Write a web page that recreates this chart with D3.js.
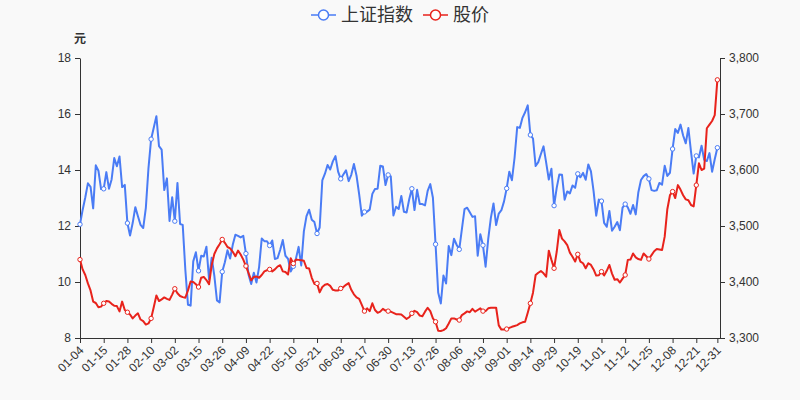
<!DOCTYPE html>
<html>
<head>
<meta charset="utf-8">
<script src="https://cdn.jsdelivr.net/npm/d3@7"></script>
<style>
  body { margin: 0; background: #f9f9f9; }
  svg { font-family: "Liberation Sans", "Noto Sans CJK SC", sans-serif; }
</style>
</head>
<body>
<script>
const w = 800;
const h = 400;
const margin = { top: 58, right: 80, bottom: 62, left: 80 };

// trading days of the year, grouped by month
const tradingDays = [
  ["01", "04 05 06 07 08 11 12 13 14 15 18 19 20 21 22 25 26 27 28 29"],
  ["02", "01 02 03 04 05 08 09 10 18 19 22 23 24 25 26"],
  ["03", "01 02 03 04 05 08 09 10 11 12 15 16 17 18 19 22 23 24 25 26 29 30 31"],
  ["04", "01 02 06 07 08 09 12 13 14 15 16 19 20 21 22 23 26 27 28 29 30"],
  ["05", "06 07 10 11 12 13 14 17 18 19 20 21 24 25 26 27 28 31"],
  ["06", "01 02 03 04 07 08 09 10 11 15 16 17 18 21 22 23 24 25 28 29 30"],
  ["07", "01 02 05 06 07 08 09 12 13 14 15 16 19 20 21 22 23 26 27 28 29 30"],
  ["08", "02 03 04 05 06 09 10 11 12 13 16 17 18 19 20 23 24 25 26 27 30 31"],
  ["09", "01 02 03 06 07 08 09 10 13 14 15 16 17 22 23 24 27 28 29 30"],
  ["10", "08 11 12 13 14 15 18 19 20 21 22 25 26 27 28 29"],
  ["11", "01 02 03 04 05 08 09 10 11 12 15 16 17 18 19 22 23 24 25 26 29 30"],
  ["12", "01 02 03 06 07 08 09 10 13 14 15 16 17 20 21 22 23 24 27 28 29 30 31"]
];
const dates = tradingDays.flatMap(([m, ds]) => ds.split(" ").map(d => m + "-" + d));

const tickLabels = ["01-04", "01-15", "01-28", "02-10", "03-02", "03-15", "03-26", "04-09",
  "04-22", "05-10", "05-21", "06-03", "06-17", "06-30", "07-13", "07-26", "08-06", "08-19",
  "09-01", "09-14", "09-29", "10-19", "11-01", "11-12", "11-25", "12-08", "12-21", "12-31"];

const leftTicks = [8, 10, 12, 14, 16, 18];
const rightTicks = [3300, 3400, 3500, 3600, 3700, 3800];

const indexName = "上证指数";
const priceName = "股价";

// 上证指数 (right axis)
const indexValues = [
  3502.96,3528.68,3550.88,3576.20,3570.11,3531.50,3608.34,3598.65,3565.90,3566.38,3596.22,3566.65,3583.09,3621.26,3606.75,3624.24,3569.43,3573.34,3505.18,3483.07,
  3505.28,3533.68,3517.31,3501.86,3496.33,3532.44,3603.49,3655.09,3675.36,3696.17,3642.44,3636.36,3564.08,3585.05,3509.08,
  3551.40,3508.59,3576.90,3503.49,3501.99,3421.41,3359.29,3357.74,3436.83,3453.08,3419.95,3446.73,3445.55,3463.07,3404.66,3443.44,3411.51,3367.06,3363.59,3418.33,3435.30,3456.68,3441.91,
  3466.33,3484.39,3482.48,3479.63,3482.55,3450.68,3412.95,3396.47,3416.50,3398.99,3426.62,3477.55,3472.94,3472.93,3465.11,3474.17,3441.17,3442.61,3457.07,3474.90,3446.86,
  3441.28,3418.87,3427.99,3441.85,3462.75,3429.54,3490.38,3517.62,3529.01,3510.96,3506.94,3486.56,3497.28,3581.34,3593.36,3608.85,3600.78,3615.48,
  3624.71,3597.14,3584.22,3591.84,3599.54,3580.11,3591.40,3610.86,3589.75,3556.56,3518.33,3525.10,3525.60,3529.18,3557.41,3566.22,3566.65,3607.56,3606.37,3573.18,3591.20,
  3588.78,3518.76,3534.32,3530.26,3553.72,3525.50,3524.09,3547.84,3566.57,3528.50,3564.59,3539.30,3539.12,3536.79,3562.70,3574.73,3550.40,3467.44,3381.18,3361.59,3411.72,3397.36,
  3464.29,3447.99,3477.22,3466.56,3458.23,3494.63,3529.93,3532.62,3524.74,3516.30,3517.34,3446.98,3485.29,3465.55,3427.33,3477.13,3514.47,3540.38,3501.66,3522.16,3528.15,3543.94,
  3567.10,3597.04,3581.73,3621.86,3676.59,3675.19,3693.13,3703.11,3715.37,3662.60,3656.22,3607.09,3613.97,3628.49,3642.22,3613.07,3582.83,3602.22,3536.29,3568.17,
  3592.17,3591.71,3546.94,3561.76,3558.28,3572.37,3568.14,3593.15,3587.00,3594.78,3582.60,3609.86,3597.64,3562.31,3518.42,3547.34,
  3544.48,3505.63,3498.54,3526.87,3491.57,3498.63,3507.00,3492.46,3532.79,3539.10,3533.30,3521.79,3537.37,3520.71,3560.37,3582.08,3589.09,3592.70,3584.18,3564.09,3562.70,3563.89,
  3576.89,3573.84,3607.43,3589.31,3595.09,3637.57,3673.04,3666.35,3681.08,3661.53,3647.63,3675.02,3632.36,3593.60,3625.13,3622.62,3643.34,3618.05,3615.97,3630.11,3597.00,3619.19,3639.78
];

// 股价 (left axis, 元)
const priceValues = [
  10.80,10.45,10.25,9.95,9.70,9.30,9.25,9.10,9.12,9.24,9.32,9.30,9.22,9.15,9.14,8.95,9.30,9.00,8.92,8.84,
  8.70,8.80,8.88,8.66,8.60,8.48,8.52,8.70,9.10,9.52,9.32,9.38,9.45,9.40,9.36,
  9.55,9.76,9.60,9.50,9.46,9.44,9.70,10.02,10.00,9.92,9.82,10.15,10.18,10.07,9.92,10.60,11.00,11.20,11.35,11.52,11.40,11.25,11.20,
  11.08,10.92,11.12,10.98,10.80,10.57,10.32,10.06,10.18,10.20,10.15,10.25,10.38,10.42,10.45,10.38,10.45,10.55,10.60,10.38,10.36,
  10.27,10.85,10.66,10.80,10.79,10.78,10.76,10.50,10.48,10.15,9.93,9.95,9.63,9.82,9.90,9.93,9.86,9.72,
  9.70,9.70,9.77,9.82,9.90,9.96,9.72,9.56,9.45,9.40,9.18,8.96,9.06,8.96,9.24,9.00,8.90,8.94,9.04,8.98,8.96,
  8.94,8.90,8.85,8.85,8.84,8.76,8.68,8.74,8.88,8.97,8.92,8.80,8.78,8.94,9.08,8.96,8.70,8.58,8.26,8.25,8.28,8.35,
  8.52,8.70,8.70,8.66,8.64,8.82,8.88,8.95,8.92,9.04,8.94,9.00,9.06,8.96,8.96,9.06,9.08,9.08,9.08,8.45,8.30,8.30,
  8.32,8.36,8.40,8.43,8.46,8.52,8.56,8.58,8.90,9.24,9.62,10.25,10.33,10.39,10.31,10.19,11.12,10.79,10.49,11.08,
  11.86,11.55,11.45,11.32,11.05,10.90,10.73,10.99,10.73,10.67,10.49,10.67,10.61,10.45,10.23,10.24,
  10.37,10.23,10.40,10.61,10.30,10.08,10.10,9.98,10.12,10.25,10.79,10.80,11.02,10.88,10.82,10.79,11.02,10.92,10.82,10.96,11.10,11.18,
  11.16,11.14,11.62,12.60,13.10,13.23,13.00,13.46,13.30,13.10,12.95,12.92,12.75,12.70,13.46,14.24,14.00,14.05,15.49,15.62,15.75,15.96,17.22
];

const blue = "#4a7cf5";
const red = "#e8231c";
const axisColor = "#333";

const svg = d3.select("body")
  .append("svg")
  .attr("width", w)
  .attr("height", h);

svg.append("rect").attr("width", w).attr("height", h).attr("fill", "#f9f9f9");

// one trailing empty slot after the last trading day
const xScale = d3.scaleLinear()
  .domain([0, dates.length])
  .range([margin.left, w - margin.right]);

const yLeft = d3.scaleLinear()
  .domain([8, 18])
  .range([h - margin.bottom, margin.top]);

const yRight = d3.scaleLinear()
  .domain([3300, 3800])
  .range([h - margin.bottom, margin.top]);

const tickIdx = tickLabels.map(t => dates.indexOf(t));

// AXES
const xAxis = svg.append("g")
  .attr("transform", `translate(0, ${h - margin.bottom})`)
  .call(d3.axisBottom(xScale)
    .tickValues(tickIdx)
    .tickFormat(i => dates[i])
    .tickSizeOuter(0)
    .tickSize(5));
xAxis.select(".domain").attr("d", `M${margin.left},0.5H${w - margin.right}`);
xAxis.selectAll("text")
  .attr("y", 0)
  .attr("dy", "0.35em")
  .attr("text-anchor", "end")
  .attr("transform", "translate(1,10) rotate(-45)");

svg.append("g")
  .attr("transform", `translate(${margin.left}, 0)`)
  .call(d3.axisLeft(yLeft).tickValues(leftTicks).tickSize(5).tickSizeOuter(0).tickPadding(4));

svg.append("g")
  .attr("transform", `translate(${w - margin.right}, 0)`)
  .call(d3.axisRight(yRight).tickValues(rightTicks).tickFormat(d3.format(",")).tickSize(5).tickSizeOuter(0).tickPadding(4));

svg.selectAll(".tick text").attr("fill", axisColor).attr("font-size", 12);
svg.selectAll(".domain, .tick line").attr("stroke", axisColor);

// unit name
svg.append("text")
  .attr("x", margin.left)
  .attr("y", margin.top - 15)
  .attr("text-anchor", "middle")
  .attr("font-size", 12)
  .attr("font-weight", "bold")
  .attr("fill", axisColor)
  .text("元");

// LINES
const series = [
  { name: indexName, values: indexValues, y: yRight, color: blue },
  { name: priceName, values: priceValues, y: yLeft, color: red }
];

series.forEach(s => {
  const line = d3.line()
    .x((d, i) => xScale(i))
    .y(d => s.y(d));

  svg.append("path")
    .datum(s.values)
    .attr("fill", "none")
    .attr("stroke", s.color)
    .attr("stroke-width", 2)
    .attr("stroke-linejoin", "round")
    .attr("d", line);

  svg.append("g")
    .selectAll("circle")
    .data(tickIdx)
    .join("circle")
    .attr("cx", i => xScale(i))
    .attr("cy", i => s.y(s.values[i]))
    .attr("r", 2.2)
    .attr("fill", "#fff")
    .attr("stroke", s.color)
    .attr("stroke-width", 1);
});

// LEGEND
const legend = svg.append("g");
let lx = 0;
series.forEach((s, k) => {
  const g = legend.append("g").attr("transform", `translate(${lx}, 0)`);
  g.append("line")
    .attr("x1", 0).attr("x2", 25).attr("y1", 15).attr("y2", 15)
    .attr("stroke", s.color).attr("stroke-width", 2).attr("opacity", 0.75);
  g.append("circle")
    .attr("cx", 12.5).attr("cy", 15).attr("r", 5)
    .attr("fill", "#fff").attr("stroke", s.color).attr("stroke-width", 1.5);
  const t = g.append("text")
    .attr("x", 30).attr("y", 15)
    .attr("dy", "0.35em")
    .attr("font-size", 18)
    .attr("fill", axisColor)
    .text(s.name);
  lx += 30 + t.node().getComputedTextLength() + 10;
});
legend.attr("transform", `translate(${(w - (lx - 10)) / 2}, 0)`);
</script>
</body>
</html>
